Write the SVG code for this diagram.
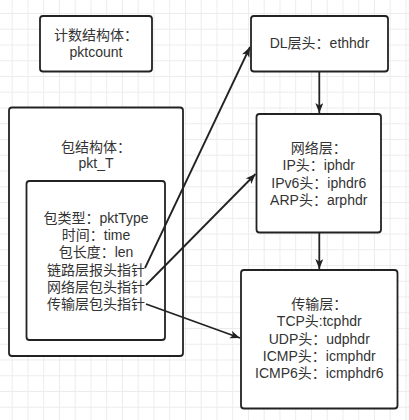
<svg xmlns="http://www.w3.org/2000/svg" width="409" height="420" viewBox="0 0 409 420">
<style>
.box{fill:#ffffff;stroke:#222222;stroke-width:1.8}
.t{font-family:"Liberation Sans","Noto Sans CJK SC",sans-serif;font-size:14px;fill:#333333;text-anchor:middle}
.c{fill:none;stroke:#222222;stroke-width:1.8}
</style>
<defs>
<pattern id="grid" patternUnits="userSpaceOnUse" x="11.7" y="13" width="15.75" height="15.75">
<path d="M0 0.5H15.75M0.5 0V15.75" stroke="#ececec" stroke-width="1" fill="none"/>
</pattern>
<marker id="arr" markerUnits="userSpaceOnUse" markerWidth="11" markerHeight="9" refX="10" refY="4" orient="auto">
<path d="M0,0 L10,4 L0,8 L2.5,4 z" fill="#222222"/>
</marker>
</defs>
<rect width="409" height="420" fill="#ffffff"/>
<rect width="409" height="420" fill="url(#grid)"/>
<g id="count">
<rect class="box" x="40" y="16" width="112" height="55.5" rx="3"/>
<text class="t" x="96" y="40">计数结构体：</text>
<text class="t" x="96" y="57">pktcount</text>
</g>
<g id="pkt">
<rect class="box" x="9" y="107.5" width="174" height="248.5" rx="3"/>
<text class="t" x="96" y="152">包结构体：</text>
<text class="t" x="96" y="168">pkt_T</text>
</g>
<g id="pktfields">
<rect class="box" x="26.5" y="181" width="138.5" height="159" rx="3"/>
<text class="t" x="96" y="222.5">包类型：pktType</text>
<text class="t" x="96" y="240">时间：time</text>
<text class="t" x="96" y="257">包长度：len</text>
<text class="t" x="96" y="274.5">链路层报头指针</text>
<text class="t" x="96" y="291.5">网络层包头指针</text>
<text class="t" x="96" y="309">传输层包头指针</text>
</g>
<g id="dl">
<rect class="box" x="251" y="16" width="137" height="55.5" rx="3"/>
<text class="t" x="319.5" y="48">DL层头：ethhdr</text>
</g>
<g id="net">
<rect class="box" x="256.5" y="114" width="124.5" height="118.5" rx="3"/>
<text class="t" x="318.75" y="153">网络层：</text>
<text class="t" x="318.75" y="170">IP头：iphdr</text>
<text class="t" x="318.75" y="187.5">IPv6头：iphdr6</text>
<text class="t" x="318.75" y="205">ARP头：arphdr</text>
</g>
<g id="trans">
<rect class="box" x="241" y="270" width="156.5" height="138.5" rx="3"/>
<text class="t" x="319.25" y="309">传输层：</text>
<text class="t" x="319.25" y="326">TCP头:tcphdr</text>
<text class="t" x="319.25" y="343.5">UDP头：udphdr</text>
<text class="t" x="319.25" y="361">ICMP头：icmphdr</text>
<text class="t" x="319.25" y="378">ICMP6头：icmphdr6</text>
</g>
<g id="connectors">
<line class="c" x1="319.3" y1="71.5" x2="319.3" y2="113" marker-end="url(#arr)"/>
<line class="c" x1="319.3" y1="232.5" x2="319.3" y2="269" marker-end="url(#arr)"/>
<line class="c" x1="145" y1="268" x2="250" y2="47" marker-end="url(#arr)"/>
<line class="c" x1="146" y1="285" x2="255.5" y2="174" marker-end="url(#arr)"/>
<line class="c" x1="146" y1="304" x2="240" y2="338" marker-end="url(#arr)"/>
</g>
</svg>
